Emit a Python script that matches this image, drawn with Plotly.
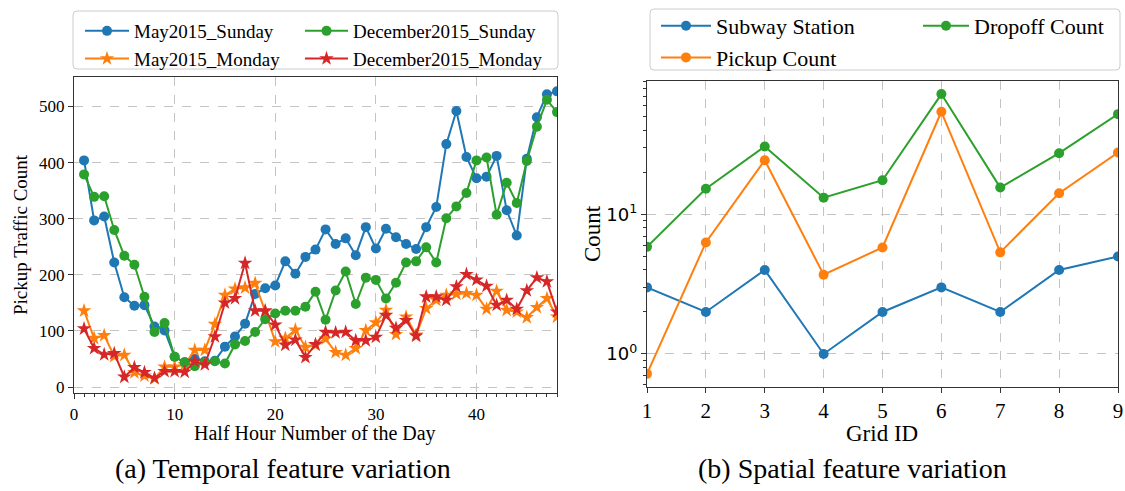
import plotly.graph_objects as go

# ---------------- data ----------------
half_hours = list(range(1, 49))
may_sunday = [404, 297, 304, 222, 160, 145, 146, 108, 101, 54, 44, 50, 46, 47, 72, 90,
              113, 166, 176, 181, 224, 202, 232, 245, 281, 255, 265, 235, 285, 247, 282, 267,
              255, 246, 285, 321, 433, 492, 410, 372, 375, 412, 315, 270, 407, 481, 522, 527]
may_monday = [136, 87, 92, 55, 57, 26, 20, 15, 36, 36, 40, 66, 66, 112, 164, 175,
              177, 185, 135, 81, 87, 102, 71, 75, 86, 62, 57, 69, 101, 115, 137, 94,
              125, 93, 140, 155, 164, 166, 167, 164, 139, 171, 137, 134, 124, 142, 158, 125]
dec_sunday = [379, 339, 340, 280, 234, 218, 161, 98, 114, 54, 44, 37, 44, 46, 42, 76,
              82, 98, 121, 131, 136, 136, 143, 170, 120, 172, 206, 148, 195, 191, 158, 186,
              222, 224, 249, 222, 301, 322, 346, 404, 409, 307, 364, 328, 403, 464, 512, 490]
dec_monday = [104, 69, 58, 60, 18, 35, 26, 16, 28, 28, 27, 46, 40, 90, 150, 158,
              221, 136, 136, 111, 75, 84, 53, 76, 98, 97, 98, 83, 83, 89, 128, 105,
              119, 91, 161, 161, 155, 179, 201, 191, 180, 146, 155, 139, 172, 195, 188, 134]

grid_ids = [1, 2, 3, 4, 5, 6, 7, 8, 9]
subway_station = [3, 2, 4, 1, 2, 3, 2, 4, 5]
pickup_count = [0.72, 6.3, 24.5, 3.7, 5.8, 54.5, 5.35, 14.2, 27.8]
dropoff_count = [5.86, 15.3, 30.7, 13.2, 17.6, 73, 15.6, 27.5, 52.4]

left_xticks = [0, 10, 20, 30, 40]
left_yticks = [0, 100, 200, 300, 400, 500]
right_yticks = [1, 10]
right_yticktext = ["10<sup>0</sup>", "10<sup>1</sup>"]
right_minor_yticks = [0.6, 0.7, 0.8, 0.9, 2, 3, 4, 5, 6, 7, 8, 9, 20, 30, 40, 50, 60, 70, 80, 90]

# ---------------- style ----------------
W, H = 1125, 491
C0, C1, C2, C3 = "#1f77b4", "#ff7f0e", "#2ca02c", "#d62728"
SERIF = "Liberation Serif, Times New Roman, serif"
GRID = "#c4c4c4"
AXC = "#333333"


def px(x):
    return x / W


def py(y):
    return 1 - y / H


fig = go.Figure()

left_series = [
    ("May2015_Sunday", may_sunday, C0, "circle", 10, "legend"),
    ("May2015_Monday", may_monday, C1, "star", 11, "legend"),
    ("December2015_Sunday", dec_sunday, C2, "circle", 10, "legend2"),
    ("December2015_Monday", dec_monday, C3, "star", 11, "legend2"),
]
for name, vals, col, sym, size, leg in left_series:
    fig.add_trace(go.Scatter(
        x=half_hours, y=vals, name=name, mode="lines+markers",
        line=dict(color=col, width=2), marker=dict(symbol=sym, size=size, color=col),
        xaxis="x", yaxis="y", legend=leg))

right_series = [
    ("Subway Station", subway_station, C0, "legend3"),
    ("Pickup Count", pickup_count, C1, "legend3"),
    ("Dropoff Count", dropoff_count, C2, "legend4"),
]
for name, vals, col, leg in right_series:
    fig.add_trace(go.Scatter(
        x=grid_ids, y=vals, name=name, mode="lines+markers",
        line=dict(color=col, width=2), marker=dict(symbol="circle", size=10, color=col),
        xaxis="x2", yaxis="y2", legend=leg))

axis_common = dict(showline=True, linecolor=AXC, linewidth=1.3, mirror=True,
                   showgrid=True, gridcolor=GRID, griddash="dash", gridwidth=1,
                   zeroline=False, ticks="outside", ticklen=5, tickcolor=AXC,
                   automargin=False)

fig.update_layout(
    width=W, height=H,
    margin=dict(l=0, r=0, t=0, b=0),
    paper_bgcolor="white", plot_bgcolor="white",
    font=dict(family=SERIF, size=17, color="black"),
    xaxis=dict(domain=[px(74), px(557)], range=[0, 48], tickvals=left_xticks,
               tickfont=dict(family=SERIF, size=17),
               minor=dict(dtick=1, tick0=0, ticks="outside", ticklen=3, tickcolor=AXC, showgrid=False),
               **axis_common),
    yaxis=dict(domain=[py(393), py(77)], range=[-10.6, 552.6], tickvals=left_yticks,
               tickfont=dict(family=SERIF, size=17), anchor="x", **axis_common),
    xaxis2=dict(domain=[px(647), px(1118)], range=[1, 9], tickvals=grid_ids,
                tickfont=dict(family=SERIF, size=21), anchor="y2", **axis_common),
    yaxis2=dict(domain=[py(387), py(81)], type="log", range=[-0.237, 1.957],
                tickvals=right_yticks, ticktext=right_yticktext,
                tickfont=dict(family="DejaVu Sans", size=18), anchor="x2",
                minor=dict(tickvals=right_minor_yticks, ticks="outside", ticklen=3,
                           tickcolor=AXC, showgrid=False),
                **axis_common),
    showlegend=True,
)

leg_common = dict(orientation="v", xanchor="left", yanchor="top", bgcolor="rgba(0,0,0,0)",
                  borderwidth=0, tracegroupgap=0)
fig.update_layout(
    legend=dict(x=px(80), y=py(12), itemwidth=44, font=dict(family=SERIF, size=19), **leg_common),
    legend2=dict(x=px(300), y=py(12), itemwidth=43, font=dict(family=SERIF, size=19), **leg_common),
    legend3=dict(x=px(656), y=py(5), itemwidth=50, font=dict(family=SERIF, size=22), **leg_common),
    legend4=dict(x=px(918), y=py(5), itemwidth=46, font=dict(family=SERIF, size=22), **leg_common),
)

# legend frames
for (x0, y0, x1, y1) in [(73, 11, 558, 69), (650, 9, 1120, 70)]:
    r = 4
    path = (f"M{px(x0 + r)},{py(y0)} L{px(x1 - r)},{py(y0)} Q{px(x1)},{py(y0)} {px(x1)},{py(y0 + r)} "
            f"L{px(x1)},{py(y1 - r)} Q{px(x1)},{py(y1)} {px(x1 - r)},{py(y1)} "
            f"L{px(x0 + r)},{py(y1)} Q{px(x0)},{py(y1)} {px(x0)},{py(y1 - r)} "
            f"L{px(x0)},{py(y0 + r)} Q{px(x0)},{py(y0)} {px(x0 + r)},{py(y0)} Z")
    fig.add_shape(type="path", path=path, xref="paper", yref="paper",
                  line=dict(color="#cccccc", width=1), fillcolor="rgba(255,255,255,0.8)", layer="below")

annotations = [
    dict(text="Pickup Traffic Count", x=px(21), y=py(235), angle=-90, size=19),
    dict(text="Half Hour Number of the Day", x=px(315), y=py(433), angle=0, size=20),
    dict(text="Count", x=px(592), y=py(234), angle=-90, size=23),
    dict(text="Grid ID", x=px(882), y=py(433), angle=0, size=23),
    dict(text="(a) Temporal feature variation", x=px(283), y=py(468), angle=0, size=28),
    dict(text="(b) Spatial feature variation", x=px(852), y=py(468), angle=0, size=28),
]
for a in annotations:
    fig.add_annotation(xref="paper", yref="paper", showarrow=False,
                       xanchor="center", yanchor="middle",
                       font=dict(family=SERIF, color="black", size=a["size"]),
                       text=a["text"], x=a["x"], y=a["y"], textangle=a["angle"])

fig.write_html("out.html")
